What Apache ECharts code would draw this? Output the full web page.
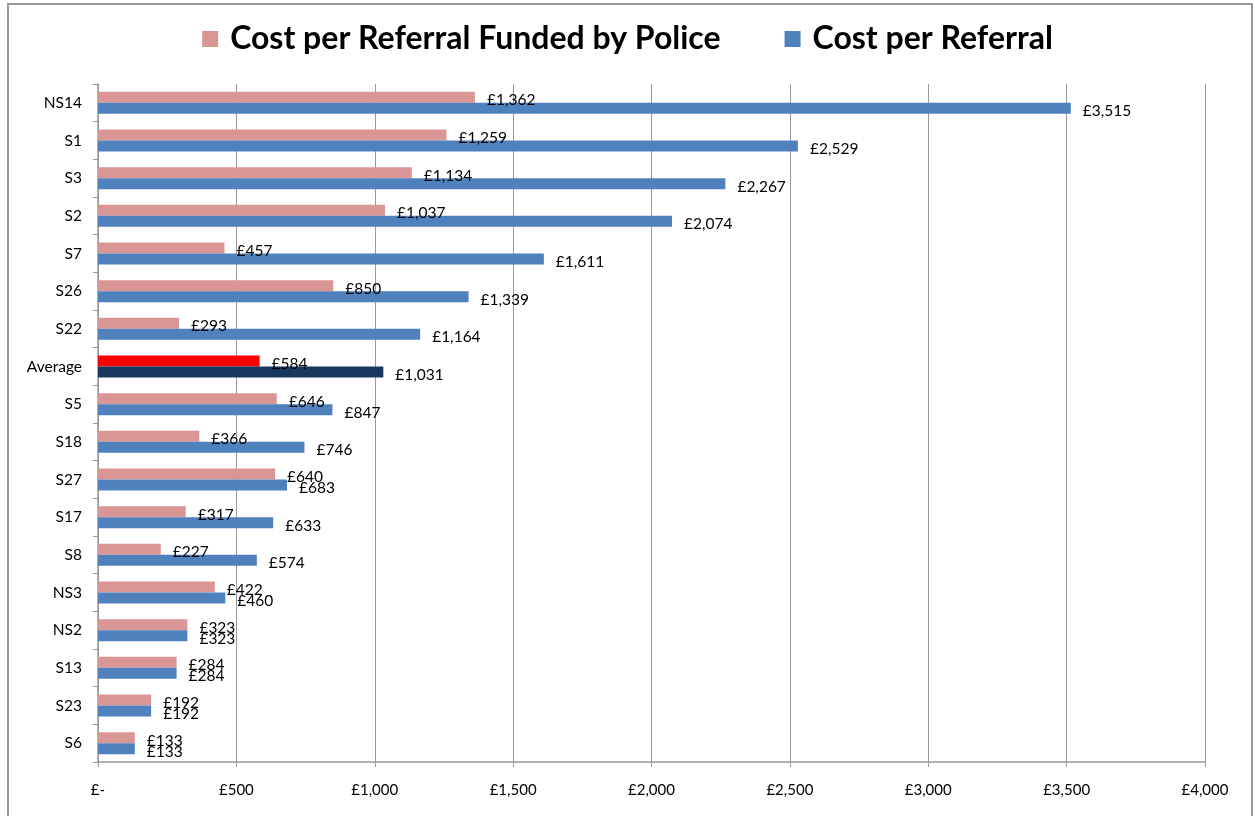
<!DOCTYPE html>
<html>
<head>
<meta charset="utf-8">
<script src="https://cdn.jsdelivr.net/npm/echarts@6/dist/echarts.min.js"></script>
<style>
  html, body { margin: 0; padding: 0; background: #fff; }
  #chart { width: 1255px; height: 816px; }
</style>
</head>
<body>
<div id="chart"></div>
<script>
// Categories listed top to bottom
const categories = ['NS14', 'S1', 'S3', 'S2', 'S7', 'S26', 'S22', 'Average', 'S5', 'S18', 'S27', 'S17', 'S8', 'NS3', 'NS2', 'S13', 'S23', 'S6'];
const fundedByPolice = [1362, 1259, 1134, 1037, 457, 850, 293, 584, 646, 366, 640, 317, 227, 422, 323, 284, 192, 133];
const costPerReferral = [3515, 2529, 2267, 2074, 1611, 1339, 1164, 1031, 847, 746, 683, 633, 574, 460, 323, 284, 192, 133];
const xTicks = [0, 500, 1000, 1500, 2000, 2500, 3000, 3500, 4000];

const seriesNames = ['Cost per Referral Funded by Police', 'Cost per Referral'];
const PINK = '#D99694', BLUE = '#4F81BD';
const AVG_PINK = '#FF0000', AVG_BLUE = '#17375E';
const FONT = 'Lato, "Open Sans", sans-serif';

function money(v) {
  if (v === 0) return '£-';
  return '£' + v.toLocaleString('en-GB');
}

function toItems(values, highlight) {
  return values.map((v, i) => categories[i] === 'Average'
    ? { value: v, itemStyle: { color: highlight } }
    : v);
}

const labelStyle = {
  show: true,
  position: 'right',
  distance: 12,
  offset: [0, 3],
  color: '#000',
  fontFamily: FONT,
  fontSize: 15.5,
  formatter: p => money(p.value)
};

const chart = echarts.init(document.getElementById('chart'), null, { renderer: 'canvas' });
chart.setOption({
  animation: false,
  backgroundColor: '#fff',
  graphic: [{
    type: 'rect',
    shape: { x: 8, y: 4, width: 1244, height: 830 },
    style: { fill: 'none', stroke: '#999', lineWidth: 2 },
    silent: true
  }],
  legend: {
    top: 18,
    left: 'center',
    itemWidth: 16,
    itemHeight: 16,
    itemGap: 64,
    icon: 'rect',
    textStyle: { fontFamily: FONT, fontWeight: 'bold', fontSize: 32, color: '#000', padding: [0, 0, 0, 7] },
    data: seriesNames
  },
  grid: { left: 98, right: 50, top: 84, bottom: 54, containLabel: false },
  xAxis: {
    type: 'value',
    min: 0,
    max: 4000,
    interval: 500,
    axisLine: { show: true, lineStyle: { color: '#999', width: 1.5 } },
    axisTick: { show: true, length: 5, lineStyle: { color: '#999' } },
    splitLine: { show: true, lineStyle: { color: '#999', width: 1 } },
    axisLabel: {
      margin: 21,
      color: '#000',
      fontFamily: FONT,
      fontSize: 15,
      customValues: xTicks,
      formatter: v => money(v)
    }
  },
  yAxis: {
    type: 'category',
    inverse: true,
    data: categories,
    axisLine: { show: true, lineStyle: { color: '#999', width: 1.5 } },
    axisTick: { show: true, length: 5, lineStyle: { color: '#999' } },
    axisLabel: { margin: 16, color: '#000', fontFamily: FONT, fontSize: 15.5 }
  },
  series: [
    {
      name: seriesNames[0],
      type: 'bar',
      data: toItems(fundedByPolice, AVG_PINK),
      itemStyle: { color: PINK },
      barWidth: 11,
      barGap: '0%',
      label: labelStyle
    },
    {
      name: seriesNames[1],
      type: 'bar',
      data: toItems(costPerReferral, AVG_BLUE),
      itemStyle: { color: BLUE },
      barWidth: 11,
      barGap: '0%',
      label: labelStyle
    }
  ]
});
</script>
</body>
</html>
